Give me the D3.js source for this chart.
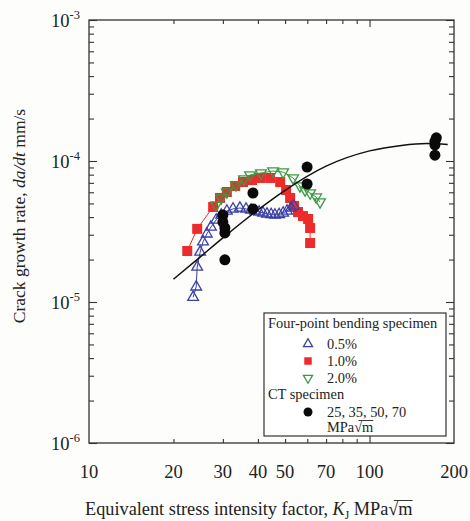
<!DOCTYPE html>
<html>
<head>
<meta charset="utf-8">
<script src="https://cdn.jsdelivr.net/npm/d3@7"></script>
<style>
  body { margin: 0; background: #fdfdfb; }
  text { font-family: "Liberation Serif", "Times New Roman", serif; fill: #222; }
</style>
</head>
<body>
<svg id="chart" width="470" height="521"></svg>
<script>
// ---- data ----
var xTickLabels = [10, 20, 30, 40, 50, 70, 100, 200];
var xMinorTicks = [20, 30, 40, 50, 60, 70, 80, 90];
var yExponents  = [-6, -5, -4, -3];

// four-point bending, 0.5 %
var k05 = [23.5, 24.1, 24.3, 24.9, 25.5, 26.3, 27.2, 28.4, 29.6, 31.0, 32.6, 34.5, 36.3, 37.8, 39.1, 40.4, 41.7, 43.1, 44.6, 46.0, 47.6, 49.2, 50.8, 52.5, 53.8];
var v05 = [1.08e-5, 1.28e-5, 1.77e-5, 2.26e-5, 2.67e-5, 3.04e-5, 3.40e-5, 3.82e-5, 4.14e-5, 4.42e-5, 4.57e-5, 4.64e-5, 4.57e-5, 4.49e-5, 4.42e-5, 4.35e-5, 4.28e-5, 4.21e-5, 4.18e-5, 4.14e-5, 4.18e-5, 4.28e-5, 4.42e-5, 4.64e-5, 4.80e-5];

// four-point bending, 1.0 %
var k10 = [22.4, 24.3, 27.7, 29.3, 31.0, 33.2, 35.4, 38.1, 40.7, 44.2, 48.0, 50.4, 52.1, 53.8, 55.6, 57.9, 60.4, 61.4, 61.4];
var v10 = [2.30e-5, 3.30e-5, 4.72e-5, 5.47e-5, 6.03e-5, 6.65e-5, 7.10e-5, 7.33e-5, 7.58e-5, 7.58e-5, 7.10e-5, 6.23e-5, 5.47e-5, 4.80e-5, 4.35e-5, 4.07e-5, 3.88e-5, 3.35e-5, 2.62e-5];

// four-point bending, 2.0 %
var k20 = [28.4, 29.6, 31.0, 33.4, 35.7, 37.5, 41.0, 45.3, 49.2, 53.4, 56.5, 58.9, 61.4, 64.5, 66.6];
var v20 = [4.88e-5, 5.47e-5, 6.03e-5, 6.76e-5, 7.45e-5, 7.96e-5, 8.22e-5, 8.49e-5, 8.35e-5, 7.58e-5, 6.65e-5, 6.23e-5, 5.93e-5, 5.55e-5, 5.12e-5];

// CT specimen
var kCT = [30.0, 30.0, 30.5, 30.5, 30.5, 38.4, 38.4, 59.9, 59.9, 173, 171, 171, 171];
var vCT = [4.14e-5, 3.69e-5, 3.35e-5, 3.09e-5, 1.99e-5, 5.93e-5, 4.57e-5, 9.06e-5, 6.87e-5, 1.46e-4, 1.38e-4, 1.30e-4, 1.10e-4];

// fitted curve
var fitK = [20, 25, 30, 40, 50, 70, 100, 130, 160, 190];
var fitV = [1.45e-5, 2.1e-5, 2.85e-5, 4.5e-5, 6.2e-5, 9.2e-5, 1.18e-4, 1.29e-4, 1.33e-4, 1.31e-4];

var colBlue = "#3b3fa6", colRed = "#ee2b2b", colGreen = "#3a9a44";

function zip(a, b) { return a.map(function(d, i) { return {k: d, v: b[i]}; }); }

var svg = d3.select("#chart");

var x = d3.scaleLog().domain([10, 200]).range([89, 454]);
var y = d3.scaleLog().domain([1e-6, 1e-3]).range([443, 20]);

var yMinor = [];
yExponents.slice(0, 3).forEach(function(e) {
  for (var m = 2; m <= 9; m++) yMinor.push(m * Math.pow(10, e));
});
var yMajor = yExponents.map(function(e) { return Math.pow(10, e); });

// ---- axes (ticks inside on all four sides) ----
function tickAxis(axisFn, scale, vals, size, tr) {
  svg.append("g")
    .attr("transform", tr)
    .call(axisFn(scale).tickValues(vals).tickSize(-size).tickFormat(""))
    .call(function(g) { g.select(".domain").remove(); g.selectAll("line").attr("stroke", "#333").attr("stroke-width", 1.1); });
}
tickAxis(d3.axisBottom, x, xMinorTicks, 4, "translate(0,443)");
tickAxis(d3.axisBottom, x, [100], 7, "translate(0,443)");
tickAxis(d3.axisTop, x, xMinorTicks, 4, "translate(0,20)");
tickAxis(d3.axisTop, x, [100], 7, "translate(0,20)");
tickAxis(d3.axisLeft, y, yMinor, 5, "translate(89,0)");
tickAxis(d3.axisLeft, y, yMajor, 8, "translate(89,0)");
tickAxis(d3.axisRight, y, yMinor, 5, "translate(454,0)");
tickAxis(d3.axisRight, y, yMajor, 8, "translate(454,0)");

svg.append("rect")
  .attr("x", 89).attr("y", 20)
  .attr("width", 454 - 89).attr("height", 443 - 20)
  .attr("fill", "none").attr("stroke", "#333").attr("stroke-width", 1.3);

// x tick labels
svg.append("g").selectAll("text")
  .data(xTickLabels)
  .enter().append("text")
  .attr("x", function(d) { return x(d); })
  .attr("y", 478)
  .attr("text-anchor", "middle")
  .style("font-size", "18.5px")
  .text(function(d) { return d; });

// y tick labels 10^n
var yl = svg.append("g").selectAll("text")
  .data(yExponents)
  .enter().append("text")
  .attr("x", 80)
  .attr("y", function(d) { return y(Math.pow(10, d)) + 7; })
  .attr("text-anchor", "end")
  .style("font-size", "18.5px");
yl.append("tspan").text("10");
yl.append("tspan").attr("dy", -8).style("font-size", "12.5px").text(function(d) { return "-" + Math.abs(d); });

// axis titles
var yt = svg.append("text")
  .attr("transform", "translate(25,216) rotate(-90)")
  .attr("text-anchor", "middle")
  .style("font-size", "17.5px");
yt.append("tspan").text("Crack growth rate, ");
yt.append("tspan").style("font-style", "italic").text("da/dt");
yt.append("tspan").text(" mm/s");

var xt = svg.append("text")
  .attr("x", 85).attr("y", 515)
  .style("font-size", "18.3px");
xt.append("tspan").text("Equivalent stress intensity factor, ");
xt.append("tspan").style("font-style", "italic").text("K");
xt.append("tspan").attr("dy", 4).style("font-size", "11.5px").text("J");
xt.append("tspan").attr("dy", -4).text(" MPa\u221Am");

function overlineLast(t) {
  var node = t.node();
  var n = node.getNumberOfChars();
  var r = node.getExtentOfChar(n - 1);
  var r0 = node.getExtentOfChar(n - 2);
  svg.append("line")
    .attr("x1", r0.x + r0.width * 0.55).attr("x2", r.x + r.width)
    .attr("y1", r0.y + 1.5).attr("y2", r0.y + 1.5)
    .attr("stroke", "#222").attr("stroke-width", 0.9);
}
overlineLast(xt);

// ---- series ----
var plot = svg.append("g");
var line = d3.line()
  .x(function(d) { return x(d.k); })
  .y(function(d) { return y(d.v); });

function series(data, color, shape, size, filled, rot) {
  plot.append("path")
    .attr("d", line(data))
    .attr("fill", "none")
    .attr("stroke", color)
    .attr("stroke-width", 1);
  plot.append("g").selectAll("path")
    .data(data)
    .enter().append("path")
    .attr("d", d3.symbol().type(shape).size(size))
    .attr("transform", function(d) { return "translate(" + x(d.k) + "," + y(d.v) + ") rotate(" + rot + ")"; })
    .attr("fill", filled ? color : "none")
    .attr("stroke", color)
    .attr("stroke-width", filled ? 0 : 1.3);
}

series(zip(k10, v10), colRed, d3.symbolSquare, 100, true, 0);
series(zip(k05, v05), colBlue, d3.symbolTriangle, 50, false, 0);
series(zip(k20, v20), colGreen, d3.symbolTriangle, 50, false, 180);

plot.append("path")
  .attr("d", d3.line().curve(d3.curveMonotoneX)
    .x(function(d) { return x(d.k); })
    .y(function(d) { return y(d.v); })(zip(fitK, fitV)))
  .attr("fill", "none")
  .attr("stroke", "#111")
  .attr("stroke-width", 1.5);

plot.append("g").selectAll("circle")
  .data(zip(kCT, vCT))
  .enter().append("circle")
  .attr("cx", function(d) { return x(d.k); })
  .attr("cy", function(d) { return y(d.v); })
  .attr("r", 5.5)
  .attr("fill", "#0a0a0a");

// ---- legend ----
var lg = svg.append("g");
lg.append("rect")
  .attr("x", 264).attr("y", 313).attr("width", 182).attr("height", 123)
  .attr("fill", "#fff").attr("stroke", "#333").attr("stroke-width", 1.2);
lg.append("text").attr("x", 268).attr("y", 328).style("font-size", "14.4px").text("Four-point bending specimen");

var legRows = [
  {label: "0.5%", color: colBlue, shape: d3.symbolTriangle, size: 36, filled: false, rot: 0, cy: 344},
  {label: "1.0%", color: colRed, shape: d3.symbolSquare, size: 56, filled: true, rot: 0, cy: 361},
  {label: "2.0%", color: colGreen, shape: d3.symbolTriangle, size: 36, filled: false, rot: 180, cy: 378}
];
legRows.forEach(function(r) {
  lg.append("path")
    .attr("d", d3.symbol().type(r.shape).size(r.size))
    .attr("transform", "translate(308," + r.cy + ") rotate(" + r.rot + ")")
    .attr("fill", r.filled ? r.color : "none")
    .attr("stroke", r.color)
    .attr("stroke-width", r.filled ? 0 : 1.3);
  lg.append("text").attr("x", 327).attr("y", r.cy + 5).style("font-size", "14.4px").text(r.label);
});
lg.append("text").attr("x", 268).attr("y", 399).style("font-size", "14.4px").text("CT specimen");
lg.append("circle").attr("cx", 308).attr("cy", 412).attr("r", 4.5).attr("fill", "#0a0a0a");
lg.append("text").attr("x", 327).attr("y", 417).style("font-size", "14.4px").text("25, 35, 50, 70");
var lm = lg.append("text").attr("x", 327).attr("y", 432).style("font-size", "14.4px").text("MPa\u221Am");
overlineLast(lm);
</script>
</body>
</html>
